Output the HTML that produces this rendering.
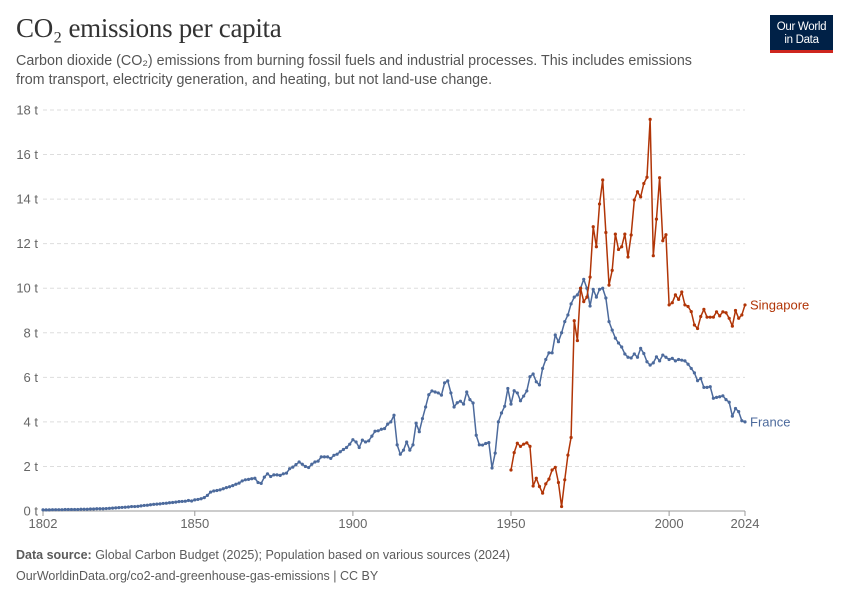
<!DOCTYPE html>
<html><head><meta charset="utf-8">
<style>
body{margin:0;background:#fff;width:850px;height:600px;overflow:hidden;font-family:"Liberation Sans",sans-serif;}
.title{position:absolute;left:16px;top:13px;font-family:"Liberation Serif",serif;font-size:27px;color:#333;letter-spacing:-0.3px}
.sub{position:absolute;left:16px;top:52px;font-size:14.3px;line-height:19px;color:#555;width:700px}
.logo{position:absolute;left:770px;top:15px;width:63px;height:38px;background:#002147;color:#fff;font-size:11.5px;line-height:12.5px;text-align:center;box-sizing:border-box;padding-top:6px;border-bottom:3px solid #ce261e;letter-spacing:-0.3px}
.foot{position:absolute;left:16px;font-size:12.5px;color:#5b5b5b}
</style></head><body>
<div class="title">CO₂ emissions per capita</div>
<div class="sub">Carbon dioxide (CO₂) emissions from burning fossil fuels and industrial processes. This includes emissions from transport, electricity generation, and heating, but not land-use change.</div>
<div class="logo">Our World<br>in Data</div>
<svg id="chart" width="850" height="600" style="position:absolute;left:0;top:0"></svg>
<div class="foot" style="top:548px"><b>Data source:</b> Global Carbon Budget (2025); Population based on various sources (2024)</div>
<div class="foot" style="top:569px">OurWorldinData.org/co2-and-greenhouse-gas-emissions | CC BY</div>
<script>
const yTicks=[0,2,4,6,8,10,12,14,16,18];
const xTicks=[1802,1850,1900,1950,2000,2024];
const franceStart=1802;
const franceValues=[0.05,0.05,0.05,0.06,0.06,0.06,0.06,0.07,0.07,0.07,0.07,0.07,0.08,0.08,0.08,0.09,0.09,0.1,0.1,0.1,0.11,0.12,0.13,0.14,0.15,0.16,0.17,0.18,0.2,0.2,0.21,0.23,0.25,0.26,0.28,0.3,0.31,0.32,0.34,0.35,0.37,0.38,0.4,0.42,0.43,0.44,0.47,0.45,0.5,0.52,0.55,0.6,0.7,0.85,0.9,0.92,0.95,1.0,1.05,
1.09,1.14,1.2,1.25,1.35,1.4,1.42,1.45,1.47,1.28,1.24,1.52,1.67,1.55,1.62,1.62,1.6,1.67,1.7,1.9,1.97,2.08,2.2,2.1,2.0,1.95,2.1,2.2,2.24,2.43,2.43,2.43,2.36,2.5,2.55,2.66,2.76,2.85,3.0,3.2,3.1,2.85,3.18,3.1,3.15,3.36,3.58,3.6,3.67,3.7,3.9,4.0,4.3,2.97,2.55,2.73,3.1,2.73,2.97,3.94,3.56,4.15,4.67,5.22,5.39,5.34,5.3,5.2,5.75,5.84,5.3,4.67,4.86,4.93,4.8,5.34,5.0,4.85,3.4,2.97,2.96,3.03,3.07,1.93,2.6,4.0,4.4,4.7,5.5,4.8,5.4,5.3,4.95,5.16,5.39,6.03,6.15,5.8,5.66,6.4,6.8,7.1,7.1,7.9,7.6,8.0,8.5,8.8,9.3,9.6,9.7,10.0,10.4,10.0,9.2,9.95,9.6,9.95,10.0,9.56,8.5,8.12,7.76,7.54,7.36,7.05,6.9,6.87,7.05,6.9,7.3,7.07,6.7,6.55,6.65,6.92,6.74,7.0,6.9,6.8,6.85,6.74,6.8,6.77,6.74,6.59,6.4,6.2,5.85,5.95,5.55,5.55,5.58,5.06,5.1,5.13,5.17,5.0,4.88,4.26,4.6,4.46,4.05,4.0];
const singaporeStart=1950;
const singaporeValues=[1.84,2.62,3.04,2.9,3.0,3.06,2.9,1.12,1.47,1.1,0.8,1.22,1.43,1.84,1.96,1.28,0.2,1.4,2.51,3.3,8.54,7.65,10.0,9.4,9.6,10.5,12.76,11.86,13.78,14.86,12.5,10.14,10.8,12.43,11.74,11.86,12.43,11.4,12.39,13.96,14.33,14.1,14.7,14.98,17.58,11.46,13.1,14.96,12.13,12.4,9.25,9.35,9.7,9.5,9.83,9.25,9.18,8.95,8.35,8.19,8.73,9.05,8.7,8.7,8.7,8.94,8.76,8.94,8.9,8.65,8.3,9.0,8.65,8.8,9.25];
const NS='http://www.w3.org/2000/svg';
const svg=document.getElementById('chart');
const x0=43,x1=745,y0=511,y1=110;
function xs(yr){return x0+(yr-1802)/(2024-1802)*(x1-x0);}
function ys(v){return y0-v/18*(y0-y1);}
function el(t,a){const e=document.createElementNS(NS,t);for(const k in a)e.setAttribute(k,a[k]);svg.appendChild(e);return e;}
yTicks.forEach(v=>{
  const g=el('line',{x1:x0,x2:x1,y1:ys(v),y2:ys(v),stroke:'#ddd','stroke-dasharray':v===0?'':'4 3'});
  
  
  const t=el('text',{x:38,y:ys(v)+4.5,'text-anchor':'end','font-size':'13','fill':'#666','font-family':'Liberation Sans'});
  t.textContent=v+' t';
  
  
});
const ax=el('line',{x1:x0,x2:x1,y1:y0,y2:y0,stroke:'#999'});


xTicks.forEach(yr=>{
  const tk=el('line',{x1:xs(yr),x2:xs(yr),y1:y0,y2:y0+5,stroke:'#999'});
  
  
  const t=el('text',{x:xs(yr),y:528,'text-anchor':'middle','font-size':'13','fill':'#666','font-family':'Liberation Sans'});
  t.textContent=yr;
  
  
});
function series(start,vals,color,name){
  const pts=vals.map((v,i)=>[xs(start+i),ys(v)]);
  const p=el('polyline',{points:pts.map(q=>q.join(',')).join(' '),fill:'none',stroke:color,'stroke-width':1.5,'stroke-linejoin':'round'});
  
  
  pts.forEach(q=>{
    const c=el('circle',{cx:q[0],cy:q[1],r:1.6,fill:color});
    
    
  });
  const last=pts[pts.length-1];
  const t=el('text',{x:last[0]+5,y:last[1]+4.5,'font-size':'13','fill':color,'font-family':'Liberation Sans'});
  t.textContent=name==='france'?'France':'Singapore';
  
  
}
series(franceStart,franceValues,'#4c6a9c','france');
series(singaporeStart,singaporeValues,'#b13507','singapore');
</script>
</body></html>
